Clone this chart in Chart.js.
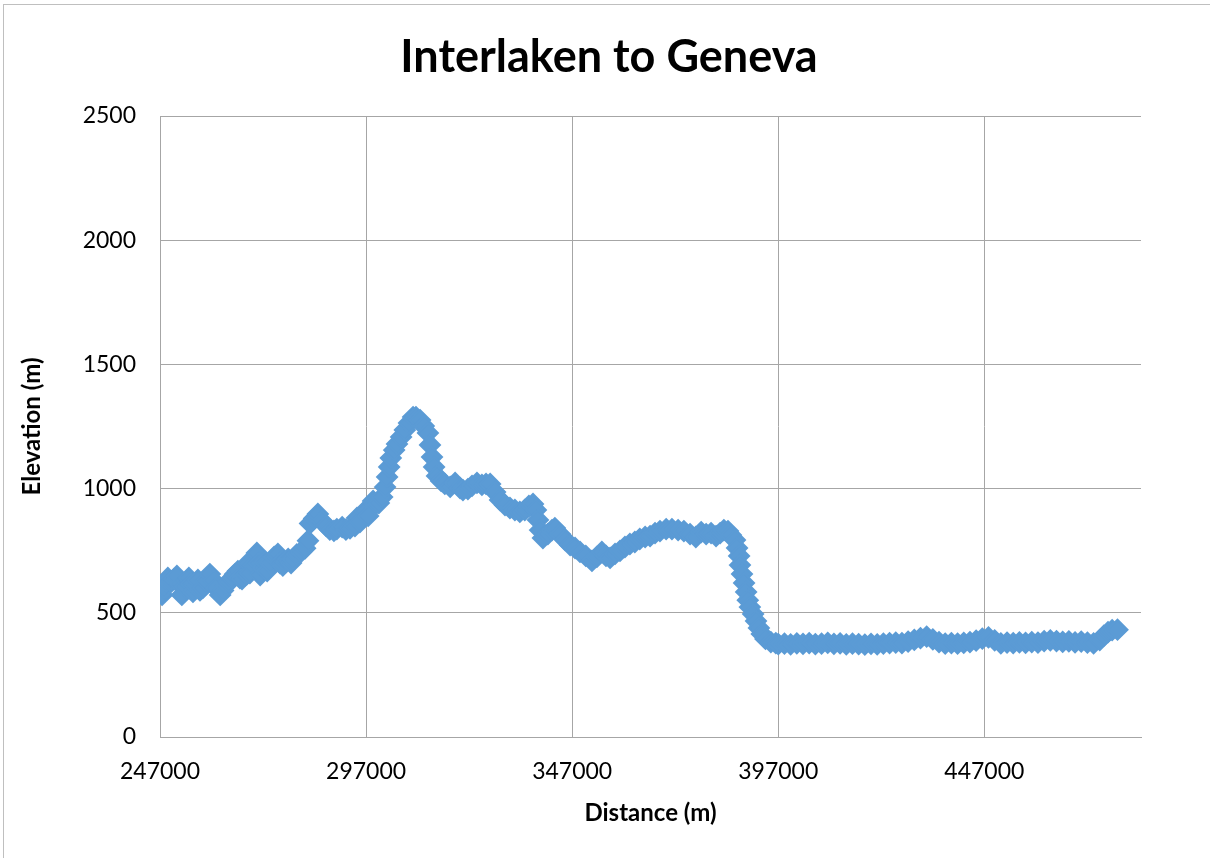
<!DOCTYPE html>
<html>
<head>
<meta charset="utf-8">
<script src="https://cdn.jsdelivr.net/npm/chart.js@4"></script>
<style>
  html, body { margin: 0; padding: 0; background: #ffffff; }
  canvas { display: block; }
</style>
</head>
<body>
<canvas id="profileChart" width="1210" height="858"></canvas>
<script>
// distance along the route (m)
const distances = [
  247500, 248000, 248500, 248900, 249700, 250400, 251100, 251900, 252300, 253100,
  253600, 254000, 254500, 255000, 255500, 256200, 256700, 257400, 258200, 259100,
  259900, 260600, 261600, 262300, 263000, 263700, 264500, 265200, 265900, 266400,
  266900, 267600, 268100, 268300, 268800, 269600, 270500, 271000, 271300, 272000,
  272500, 273000, 273700, 274700, 275600, 276100, 276800, 277600, 278100, 278800,
  279300, 280200, 281200, 282200, 282900, 283400, 284400, 285300, 286300, 287300,
  288200, 289200, 289900, 291200, 292100, 293100, 294300, 294800, 295500, 296700,
  297500, 298700, 299200,
  300100, 300900, 301600, 302100,
  302600, 303000, 303800, 304500, 305500, 306400, 307400, 308400, 309100, 310100,
  311000, 312000, 312500, 313000, 313500, 314200, 315200, 316100, 317400, 318600,
  319800, 320500, 321700, 322700, 323900, 325100, 326100, 327100, 328300, 329500,
  330700, 331900, 333100, 334300, 335500, 336500, 337500, 338200, 338700, 339200,
  339900, 341100, 342100, 342800, 344000, 345300, 346500, 347700, 348900, 350300,
  351800, 353000, 354200, 355200, 356200, 357400, 358600, 359800, 361000, 362200,
  363400, 364700, 365900, 367100, 368300, 369800, 371200, 372700, 374100, 375600,
  377000, 378300, 379500, 380700, 381900, 382900, 383800, 384800, 385500, 386500,
  387000, 387500, 387700, 388200, 388700, 389200, 389600, 390100, 390900, 391600,
  392300, 393000, 393900, 395200, 396400, 397000, 398500, 400000, 401500, 403000,
  404500, 406000, 407500, 409000, 410500, 412000, 413500, 415000, 416500, 418000,
  419500, 421000, 422500, 424000, 425500, 427000, 428500, 430000, 431500, 433000,
  434500, 436000, 437500, 439000, 440500, 442000, 443500, 445000, 446500, 448000,
  449500, 451000, 452500, 454000, 455500, 457000, 458500, 460000, 461500, 463000,
  464500, 466000, 467500, 469000, 470500, 472000, 473500, 475000, 476000, 477000,
  478000, 479300
];

// elevation (m)
const elevations = [
  572, 600, 625, 640, 625, 635, 648, 615, 572, 605,
  628, 640, 615, 584, 610, 632, 590, 600, 628, 656,
  630, 600, 572, 590, 610, 625, 640, 655, 668, 640,
  636, 650, 656, 700, 660, 690, 741, 700, 652, 680,
  705, 668, 700, 725, 737, 700, 690, 705, 717, 700,
  717, 735, 745, 760, 790, 860, 880, 898, 870, 850,
  835, 830, 837, 845, 835, 840, 849, 882, 865, 910,
  890, 950, 935,
  942, 966, 1006, 1047,
  1087, 1123, 1155, 1180, 1208, 1236, 1264, 1288, 1288, 1276,
  1252, 1224, 1176, 1127, 1087, 1051, 1031, 1019, 1007, 1023,
  1002, 994, 998, 1011, 1023, 1015, 1019, 1019, 986, 954,
  934, 922, 914, 906, 914, 930, 938, 914, 874, 833,
  801, 817, 833, 841, 817, 793, 773, 761, 745, 729,
  709, 725, 745, 729, 721, 737, 749, 765, 777, 785,
  797, 805, 809, 821, 829, 837, 837, 833, 829, 817,
  805, 825, 817, 821, 809, 821, 833, 829, 813, 793,
  761, 729, 692, 656, 620, 584, 551, 523, 495, 467,
  439, 415, 395, 382, 378, 374, 376, 373, 377, 375,
  378, 374, 376, 379, 375, 377, 373, 376, 374, 372,
  375, 373, 376, 378, 380, 378, 384, 391, 398, 404,
  393, 382, 376, 378, 376, 379, 382, 388, 396, 401,
  389, 377, 380, 378, 381, 379, 382, 380, 386, 389,
  386, 383, 385, 381, 384, 380, 377, 390, 408, 422,
  430, 432
];

const xTicks = [247000, 297000, 347000, 397000, 447000];
const yTicks = [0, 500, 1000, 1500, 2000, 2500];
const chartTitle = "Interlaken to Geneva";

const points = distances.map((d, i) => ({ x: d, y: elevations[i] }));

const fontFamily = "Lato, 'Open Sans', sans-serif";
const gridColor = "#a6a6a6";

// white background and the light frame of the spreadsheet export
const chartFrame = {
  id: "chartFrame",
  beforeDraw(chart) {
    const c = chart.ctx;
    c.save();
    c.fillStyle = "#ffffff";
    c.fillRect(0, 0, chart.width, chart.height);
    c.strokeStyle = "#bfbfbf";
    c.lineWidth = 1;
    c.strokeRect(3.5, 4.5, chart.width + 20, chart.height + 20);
    c.restore();
  },
};

// title centred on the whole picture, not on the padded layout box
const centredTitle = {
  id: "centredTitle",
  afterDraw(chart) {
    const c = chart.ctx;
    c.save();
    c.fillStyle = "#000000";
    c.font = `bold 45px ${fontFamily}`;
    c.textAlign = "center";
    c.textBaseline = "middle";
    c.fillText(chartTitle, 609, 57);
    c.restore();
  },
};

const ctx = document.getElementById("profileChart");

new Chart(ctx, {
  type: "scatter",
  data: {
    datasets: [
      {
        label: "Elevation",
        data: points,
        backgroundColor: "#5b9bd5",
        borderColor: "#5b9bd5",
        borderWidth: 2,
        pointStyle: "rectRot",
        pointRadius: 10,
        pointHoverRadius: 10,
      },
    ],
  },
  options: {
    responsive: false,
    animation: false,
    layout: {
      padding: { top: 116, left: 10, right: 69, bottom: 28 },
    },
    plugins: {
      legend: { display: false },
      title: { display: false },
      tooltip: { enabled: false },
    },
    scales: {
      x: {
        type: "linear",
        min: 247000,
        max: 485000,
        afterBuildTicks: (scale) => {
          scale.ticks = xTicks.map((v) => ({ value: v }));
        },
        afterFit: (scale) => {
          scale.height = 93;
        },
        grid: { color: gridColor, drawTicks: false },
        border: { color: gridColor },
        ticks: {
          padding: 21,
          color: "#000000",
          font: { family: fontFamily, size: 23 },
          maxRotation: 0,
          callback: (v) => String(v),
        },
        title: {
          display: true,
          text: "Distance (m)",
          color: "#000000",
          font: { family: fontFamily, size: 24, weight: "bold" },
          padding: { top: 4, bottom: 2 },
        },
      },
      y: {
        min: 0,
        max: 2500,
        afterBuildTicks: (scale) => {
          scale.ticks = yTicks.map((v) => ({ value: v }));
        },
        afterFit: (scale) => {
          scale.width = 150;
        },
        grid: { color: gridColor, drawTicks: false },
        border: { color: gridColor },
        ticks: {
          padding: 24,
          color: "#000000",
          font: { family: fontFamily, size: 23 },
          callback: (v) => String(v),
        },
        title: {
          display: true,
          text: "Elevation (m)",
          color: "#000000",
          font: { family: fontFamily, size: 24, weight: "bold" },
          padding: { top: 8, bottom: 4 },
        },
      },
    },
  },
  plugins: [chartFrame, centredTitle],
});
</script>
</body>
</html>
